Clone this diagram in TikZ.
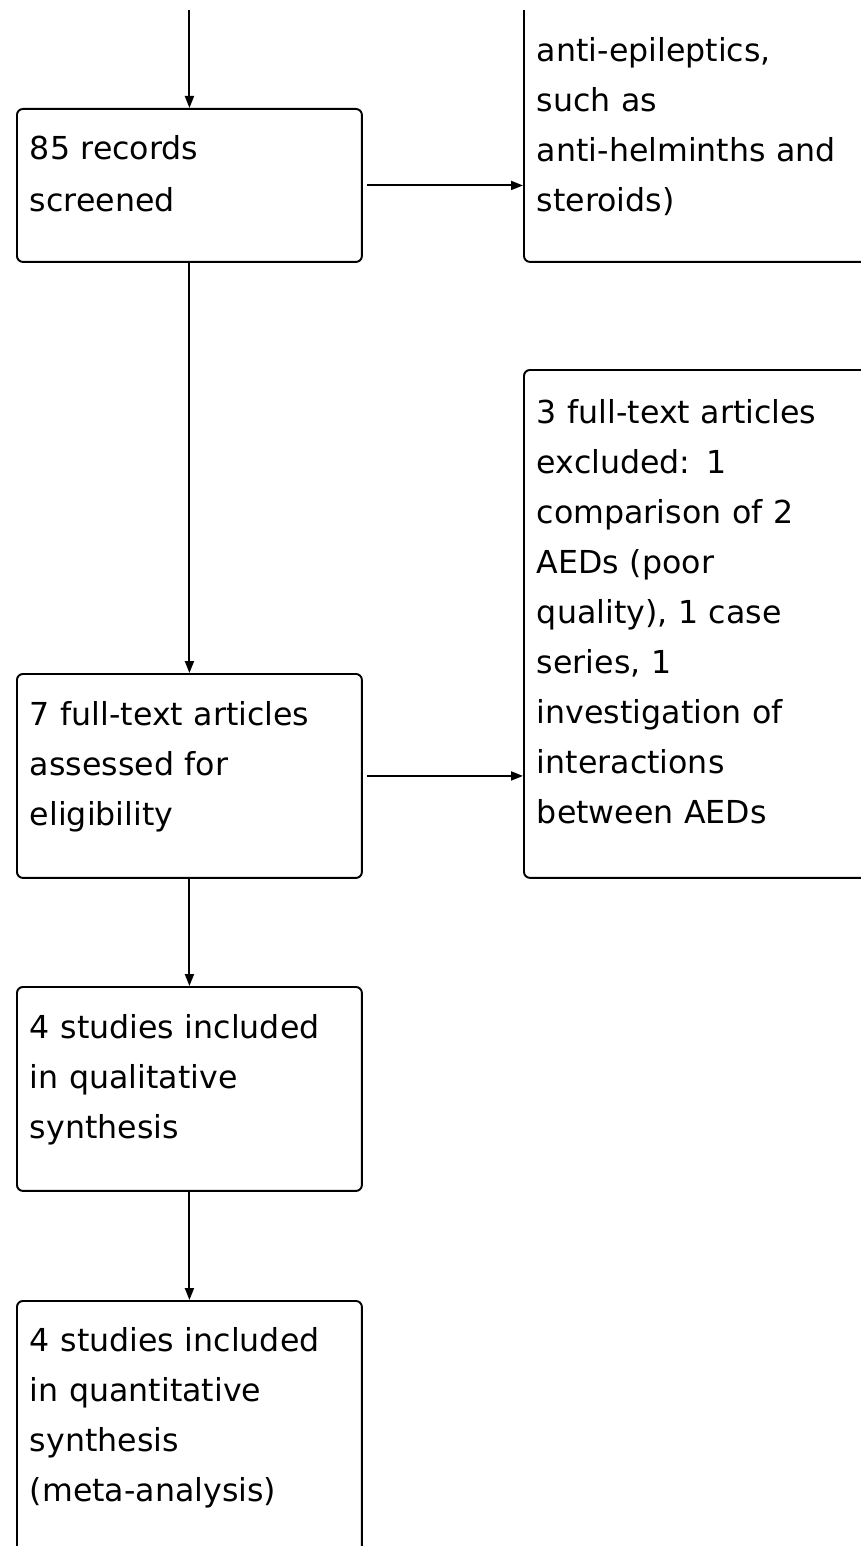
\documentclass[tikz,border=0pt]{standalone}
\usepackage{fontspec}
\setmainfont{DejaVu Sans}
\usetikzlibrary{arrows.meta}

\newcommand{\vstrut}{\rule[-0.5cm]{0pt}{1cm}}
\tikzset{
  stagebox/.style={draw, line width=1.1pt, rounded corners=0.12cm, anchor=north west,
    text width=6.38cm, inner xsep=0.26cm, inner ysep=0pt, align=left,
    font=\fontsize{18}{28.45}\selectfont,
    execute at begin node=\vstrut, execute at end node=\vstrut},
  flow/.style={line width=1.1pt, -{Triangle[length=2.4mm,width=1.8mm]}}
}

\begin{document}
\begin{tikzpicture}[x=0.02cm, y=-0.02cm]
  \useasboundingbox (0,0) rectangle (861,1547);
  \clip (0,11) rectangle (861,1545);
  % left column
  \node[stagebox, minimum height=3.06cm] (screened) at (16,108) {85 records\\screened};
  \node[stagebox, minimum height=4.08cm] (assessed) at (16,673) {7 full-text articles\\assessed for\\eligibility};
  \node[stagebox, minimum height=4.08cm] (qualsyn) at (16,986) {4 studies included\\in qualitative\\synthesis};
  \node[stagebox, minimum height=5.04cm] (quantsyn) at (16,1300) {4 studies included\\in quantitative\\synthesis\\(meta-analysis)};
  \coordinate (above) at (screened.north |- 0,-20);
  % right column
  \node[stagebox, minimum height=6cm] (exclrec) at (523,-39) {~\\anti-epileptics,\\such as\\anti-helminths and\\steroids)};
  \node[stagebox, minimum height=10.16cm] (exclft) at (523,369) {3 full-text articles\\excluded: 1\\comparison of 2\\AEDs (poor\\quality), 1 case\\series, 1\\investigation of\\interactions\\between AEDs};
  % connectors
  \draw[flow] (above) -- (screened.north);
  \draw[flow] (screened.south) -- (assessed.north);
  \draw[flow] (assessed.south) -- (qualsyn.north);
  \draw[flow] (qualsyn.south) -- (quantsyn.north);
  \draw[flow, shorten <=0.08cm] (screened.east) -- (screened.east -| exclrec.west);
  \draw[flow, shorten <=0.08cm] (assessed.east) -- (assessed.east -| exclft.west);
\end{tikzpicture}
\end{document}
